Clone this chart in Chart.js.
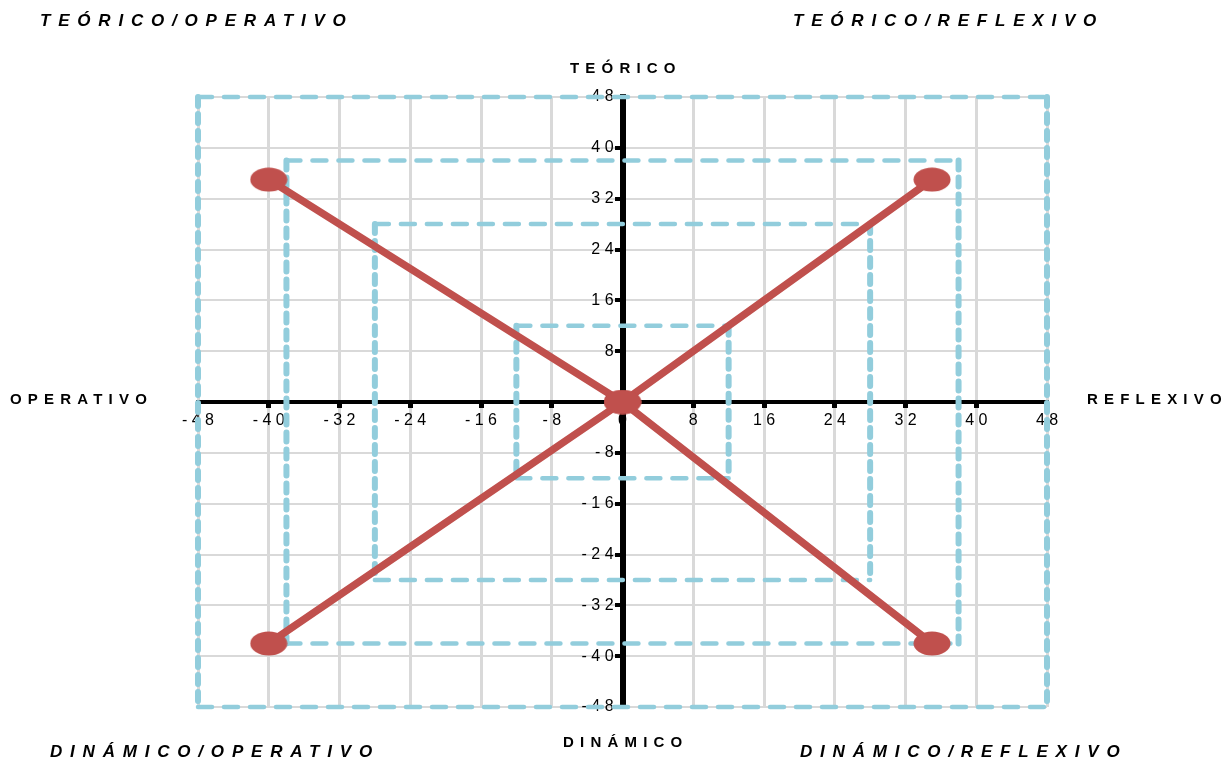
<!DOCTYPE html>
<html>
<head>
<meta charset="utf-8">
<script src="https://cdn.jsdelivr.net/npm/chart.js@4/dist/chart.umd.min.js"></script>
<style>
  html, body { margin: 0; padding: 0; background: #fff; }
  #wrap { position: relative; width: 1224px; height: 763px; }
  canvas { position: absolute; left: 0; top: 0; }
  .lbl {
    position: absolute; white-space: nowrap; color: #000;
    font-family: 'Liberation Sans', Arial, sans-serif; font-weight: bold;
    line-height: 20px; height: 20px;
  }
  .corner { font-style: italic; font-size: 17px; letter-spacing: 7.8px; }
  .axis { font-size: 15px; letter-spacing: 6.2px; }
</style>
</head>
<body>
<div id="wrap">
  <canvas id="c" width="1224" height="763"></canvas>
  <div class="lbl corner" style="left:40px; top:11px;">TEÓRICO/OPERATIVO</div>
  <div class="lbl corner" style="left:793px; top:11px;">TEÓRICO/REFLEXIVO</div>
  <div class="lbl corner" style="left:50px; top:742px;">DINÁMICO/OPERATIVO</div>
  <div class="lbl corner" style="left:800px; top:742px;">DINÁMICO/REFLEXIVO</div>
  <div class="lbl axis" style="left:570px; top:58px;">TEÓRICO</div>
  <div class="lbl axis" style="left:563px; top:732px;">DINÁMICO</div>
  <div class="lbl axis" style="left:10px; top:389px;">OPERATIVO</div>
  <div class="lbl axis" style="left:1087px; top:389px;">REFLEXIVO</div>
</div>
<script>
// axis range
const axisMin = -48;
const axisMax = 48;
const tickStep = 8;

// diagonal series (corner -> origin -> corner)
const diagA_x = [-40, 0, 35];
const diagA_y = [35, 0, -38];
const diagB_x = [-40, 0, 35];
const diagB_y = [-38, 0, 35];

// dashed square frames (half side length)
const frameHalf = [12, 28, 38, 48];

const RED = '#C0504D';
const BLUE = '#92CDDC';

function toPoints(xs, ys) {
    return xs.map((x, i) => ({ x: x, y: ys[i] }));
}

function ellipseMarker(w, h, color) {
    const c = document.createElement('canvas');
    c.width = w;
    c.height = h;
    const g = c.getContext('2d');
    g.fillStyle = color;
    g.beginPath();
    g.ellipse(w / 2, h / 2, w / 2 - 0.5, h / 2 - 0.5, 0, 0, Math.PI * 2);
    g.fill();
    return c;
}

const marker = ellipseMarker(38, 25, RED);
const spaced = (v) => String(v).split('').join(' ');

const redStyle = {
    showLine: true,
    borderColor: RED,
    backgroundColor: RED,
    borderWidth: 7.5,
    pointStyle: marker,
    pointRadius: 12,
    clip: false,
};

// each frame side as its own dashed line (the picture is stretched sideways,
// so vertical sides come out thicker with shorter dashes)
const frames = [];
frameHalf.forEach((h) => {
    const sides = [
        [{ x: -h, y: h }, { x: h, y: h }],
        [{ x: h, y: h }, { x: h, y: -h }],
        [{ x: -h, y: -h }, { x: h, y: -h }],
        [{ x: -h, y: h }, { x: -h, y: -h }],
    ];
    sides.forEach((side, i) => {
        const vertical = i % 2 === 1;
        frames.push({
            data: side,
            showLine: true,
            borderColor: BLUE,
            borderWidth: vertical ? 6 : 4.5,
            borderDash: vertical ? [9, 8] : [14, 12],
            borderCapStyle: 'round',
            pointRadius: 0,
            clip: false,
        });
    });
});

const tickFont = { family: "'Liberation Sans', Arial, sans-serif", size: 16 };

new Chart(document.getElementById('c').getContext('2d'), {
    type: 'scatter',
    data: {
        datasets: [
            { ...redStyle, data: toPoints(diagA_x, diagA_y) },
            { ...redStyle, data: toPoints(diagB_x, diagB_y) },
            ...frames,
        ],
    },
    options: {
        responsive: false,
        animation: false,
        layout: { padding: { left: 198, right: 177, top: 97, bottom: 56 } },
        plugins: {
            legend: { display: false },
            tooltip: { enabled: false },
        },
        scales: {
            x: {
                type: 'linear',
                position: { y: 0 },
                min: axisMin,
                max: axisMax,
                ticks: {
                    stepSize: tickStep,
                    autoSkip: false,
                    maxRotation: 0,
                    color: '#000',
                    font: tickFont,
                    padding: 5,
                    callback: spaced,
                },
                grid: { color: '#D9D9D9', lineWidth: 3, tickColor: '#000', tickWidth: 5, tickLength: 4 },
                border: { color: '#000', width: 4 },
            },
            y: {
                type: 'linear',
                position: { x: 0 },
                min: axisMin,
                max: axisMax,
                ticks: {
                    stepSize: tickStep,
                    autoSkip: false,
                    color: '#000',
                    font: tickFont,
                    callback: (v) => spaced(v) + '  ',
                },
                grid: { color: '#D9D9D9', lineWidth: 2, tickColor: '#000', tickWidth: 4, tickLength: 5 },
                border: { color: '#000', width: 6 },
            },
        },
    },
});
</script>
</body>
</html>
